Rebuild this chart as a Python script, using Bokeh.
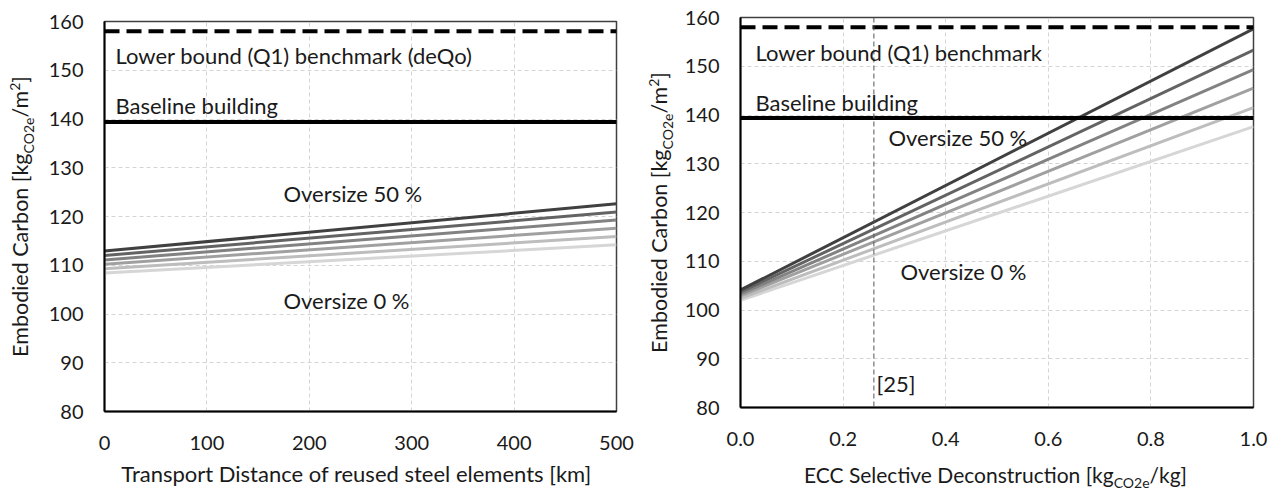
import glob, os, math, subprocess
from bokeh.plotting import figure
from bokeh.models import Range1d, Span, Label, FixedTicker, NumeralTickFormatter
from bokeh.layouts import row, column
from bokeh.embed import file_html
from bokeh.resources import INLINE

# ---------------- data ----------------
oversize_pct = [0, 10, 20, 30, 40, 50]
transport_km = [0, 500]
ec_transport_at_0 = [108.4, 109.3, 110.2, 111.1, 112.0, 112.9]
ec_transport_at_500 = [114.2, 115.9, 117.6, 119.3, 120.9, 122.6]
ecc_selective = [0.0, 1.0]
ec_ecc_at_0 = [102.0, 102.4, 102.9, 103.3, 103.7, 104.1]
ec_ecc_at_1 = [137.6, 141.5, 145.5, 149.3, 153.3, 157.7]
benchmark_q1 = 158.0
baseline_building = 139.4
ecc_ref25 = 0.26
y_ticks = [80, 90, 100, 110, 120, 130, 140, 150, 160]
left_x_ticks = [0, 100, 200, 300, 400, 500]
right_x_ticks = [0.0, 0.2, 0.4, 0.6, 0.8, 1.0]

# ---------------- style ----------------
FONT = "Lato"
TXT = "#1a1a1a"
line_colors = ["#d6d6d6", "#bdbdbd", "#a0a0a0", "#828282", "#636363", "#404040"]
FS_TICK = 20
FS_ANN = 22
MID = 0.387


def _font_path():
    pats = ["/usr/share/fonts/**/Lato-Regular.ttf", "/usr/local/share/fonts/**/Lato-Regular.ttf",
            "/usr/share/fonts/**/Lato-Regular.otf", "/usr/share/fonts/**/Lato*Regular*.ttf"]
    for pat in pats:
        r = glob.glob(pat, recursive=True)
        if r:
            return r[0]
    try:
        out = subprocess.run(["fc-match", "-f", "%{file}", "Lato:style=Regular"],
                             capture_output=True, text=True, timeout=5).stdout.strip()
        if out and os.path.exists(out):
            return out
    except Exception:
        pass
    return None


FONT_PATH = _font_path()
_F100 = None
try:
    if FONT_PATH:
        from PIL import ImageFont
        _F100 = ImageFont.truetype(FONT_PATH, 100)
except Exception:
    _F100 = None


def text_w(s, size):
    if _F100 is not None:
        try:
            return _F100.getlength(s) * size / 100.0
        except Exception:
            pass
    return len(s) * 0.5 * size


def fit_size(pieces_rel, target):
    w = sum(text_w(t, 20 * r) for t, r in pieces_rel)
    return round(20 * target / w * 2) / 2 if w > 0 else 20


def make_fig(x_lo, x_hi, frame_left, frame_top, border_l, border_t, border_r, border_b, fw, fh):
    p = figure(frame_width=fw, frame_height=fh, x_range=Range1d(x_lo, x_hi), y_range=Range1d(80, 160),
               output_backend="svg", toolbar_location=None,
               min_border_left=border_l, min_border_top=border_t,
               min_border_right=border_r, min_border_bottom=border_b)
    p.outline_line_color = "#404040"
    p.outline_line_width = 1.5
    p.background_fill_color = "white"
    p.border_fill_color = "white"
    for ax in (p.xaxis[0], p.yaxis[0]):
        ax.major_tick_line_color = None
        ax.minor_tick_line_color = None
        ax.major_tick_out = 0
        ax.major_tick_in = 0
        ax.axis_line_color = "black"
        ax.axis_line_width = 2
        ax.major_label_text_font = FONT
        ax.major_label_text_font_size = f"{FS_TICK}px"
        ax.major_label_text_color = TXT
    p.yaxis.major_label_standoff = 21
    p.xaxis.major_label_standoff = 24
    p.yaxis.ticker = FixedTicker(ticks=y_ticks)
    for g in (p.xgrid[0], p.ygrid[0]):
        g.grid_line_color = "#d4d4d4"
        g.grid_line_dash = "4 3"
        g.grid_line_width = 1
    cx = lambda px: x_lo + (px - frame_left) / fw * (x_hi - x_lo)
    cy = lambda py: 160 - (py - frame_top) / fh * 80
    return p, cx, cy


def label_fig(w, h, top=0, bottom=0):
    fh = h - top - bottom
    f = figure(width=w, height=h, x_range=Range1d(0, w), y_range=Range1d(0, fh),
               x_axis_type=None, y_axis_type=None, output_backend="svg", toolbar_location=None,
               min_border_left=0, min_border_right=0, min_border_top=top, min_border_bottom=bottom)
    f.outline_line_color = None
    f.grid.visible = False
    f.background_fill_color = "white"
    f.border_fill_color = "white"
    return f


def add_label(p, x, y, text, size, align="left", baseline="middle", angle=0.0):
    p.add_layout(Label(x=x, y=y, text=text, angle=angle, text_align=align,
                       text_baseline=baseline, text_font=FONT, text_font_size=f"{size}px",
                       text_color=TXT))


def comp_vertical(f, base_x, center_y, pieces):
    widths = [text_w(t, s) for t, s, _ in pieces]
    y = center_y - sum(widths) / 2
    for (t, s, shift), w in zip(pieces, widths):
        add_label(f, base_x - shift - MID * s, y + w / 2, t, s, align="center",
                  baseline="middle", angle=math.pi / 2)
        y += w


def comp_horizontal(f, center_x, base_y, pieces):
    widths = [text_w(t, s) for t, s, _ in pieces]
    x = center_x - sum(widths) / 2
    for (t, s, shift), w in zip(pieces, widths):
        add_label(f, x + w / 2, base_y + shift + MID * s, t, s, align="center", baseline="middle")
        x += w


SUBR = 0.65
yl_base = fit_size([("Embodied Carbon [kg", 1), ("CO2e", SUBR), ("/m", 1), ("2", SUBR), ("]", 1)], 280)
yl_sub = round(yl_base * SUBR)
ylabel_pieces = [("Embodied Carbon [kg", yl_base, 0), ("CO2e", yl_sub, -5), ("/m", yl_base, 0),
                 ("2", yl_sub, 8), ("]", yl_base, 0)]
left_title = "Transport Distance of reused steel elements [km]"
lt_size = fit_size([(left_title, 1)], 475)
rt_base = fit_size([("ECC Selective Deconstruction [kg", 1), ("CO2e", SUBR), ("/kg]", 1)], 386)
rt_sub = round(rt_base * SUBR)

TOP_H = 459
BOT_H = 32
TITLE_BASE = 482

# ---------------- left chart ----------------
L_TOP, L_BOT = 21, TOP_H - 21 - 390
YL1_W = 44
p1, cx1, cy1 = make_fig(0, 500, 104, 21, 60, L_TOP, 24, L_BOT, 512, 390)
p1.xaxis.ticker = FixedTicker(ticks=left_x_ticks)
for i in range(len(oversize_pct)):
    p1.line(x=transport_km, y=[ec_transport_at_0[i], ec_transport_at_500[i]],
            line_color=line_colors[i], line_width=3)
p1.add_layout(Span(location=benchmark_q1, dimension="width", line_color="black",
                   line_width=4, line_dash="15 7"))
p1.add_layout(Span(location=baseline_building, dimension="width", line_color="black", line_width=4))
add_label(p1, cx1(115), cy1(55), "Lower bound (Q1) benchmark (deQo)", FS_ANN)
add_label(p1, cx1(115), cy1(105), "Baseline building", FS_ANN)
add_label(p1, cx1(283), cy1(193), "Oversize 50 %", FS_ANN)
add_label(p1, cx1(283), cy1(300), "Oversize 0 %", FS_ANN)

yl1 = label_fig(YL1_W, TOP_H, L_TOP, L_BOT)
comp_vertical(yl1, 28, (21 + 390) - 216, ylabel_pieces)
xt1 = label_fig(640, BOT_H)
comp_horizontal(xt1, 356, TOP_H + BOT_H - TITLE_BASE, [(left_title, lt_size, 0)])

# ---------------- right chart ----------------
R_TOP, R_BOT = 17, TOP_H - 17 - 390
YL2_W = 36
p2, cx2, cy2 = make_fig(0, 1, 740, 17, 64, R_TOP, 24, R_BOT, 513, 390)
p2.xaxis.ticker = FixedTicker(ticks=right_x_ticks)
p2.xaxis.formatter = NumeralTickFormatter(format="0.0")
for i in range(len(oversize_pct)):
    p2.line(x=ecc_selective, y=[ec_ecc_at_0[i], ec_ecc_at_1[i]],
            line_color=line_colors[i], line_width=3)
p2.add_layout(Span(location=benchmark_q1, dimension="width", line_color="black",
                   line_width=4, line_dash="15 7"))
p2.add_layout(Span(location=baseline_building, dimension="width", line_color="black", line_width=4))
p2.add_layout(Span(location=ecc_ref25, dimension="height", line_color="#555555",
                   line_width=1, line_dash="5 3"))
add_label(p2, cx2(755), cy2(52), "Lower bound (Q1) benchmark", FS_ANN)
add_label(p2, cx2(755), cy2(102), "Baseline building", FS_ANN)
add_label(p2, cx2(888), cy2(137), "Oversize 50 %", FS_ANN)
add_label(p2, cx2(900), cy2(271), "Oversize 0 %", FS_ANN)
add_label(p2, cx2(876), cy2(383), "[25]", FS_ANN)

yl2 = label_fig(YL2_W, TOP_H, R_TOP, R_BOT)
comp_vertical(yl2, 27, (17 + 390) - 212, ylabel_pieces)
xt2 = label_fig(643, BOT_H)
comp_horizontal(xt2, 995 - 640, TOP_H + BOT_H - TITLE_BASE,
                [("ECC Selective Deconstruction [kg", rt_base, 0), ("CO2e", rt_sub, -5), ("/kg]", rt_base, 0)])

layout = row(column(row(yl1, p1), xt1), column(row(yl2, p2), xt2))
open("out.html", "w").write(file_html(layout, INLINE))
